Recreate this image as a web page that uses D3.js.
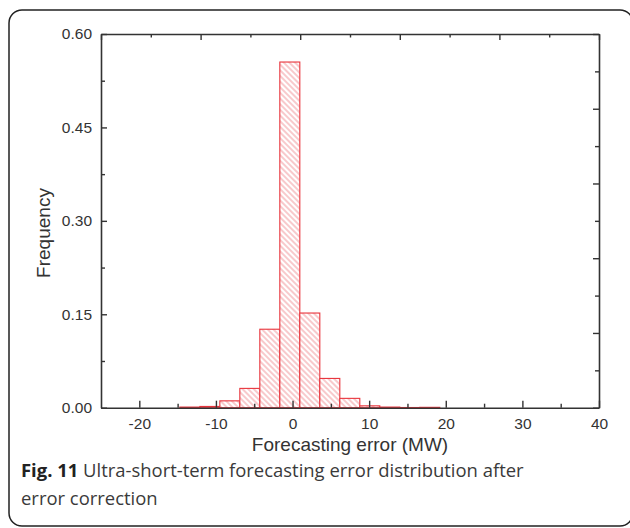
<!DOCTYPE html>
<html>
<head>
<meta charset="utf-8">
<script src="https://cdn.jsdelivr.net/npm/d3@7"></script>
<style>
  body { margin: 0; background: #fff; }
  svg { display: block; }
</style>
</head>
<body>
<svg id="chart" width="630" height="528"></svg>
<script>
// histogram bins (MW) and relative frequency
const binStart = [-14.71, -12.10, -9.49, -6.88, -4.27, -1.66, 0.95, 3.56, 6.17, 8.78, 11.39, 14.00, 16.61];
const binWidth = 2.61;
const frequency = [0.001, 0.002, 0.011, 0.031, 0.126, 0.555, 0.152, 0.047, 0.015, 0.003, 0.001, 0.0003, 0.0006];

const xTicks = [-20, -10, 0, 10, 20, 30, 40];
const xMinor = [-15, -5, 5, 15, 25, 35];
const yTicks = [0, 0.15, 0.30, 0.45, 0.60];
const yMinor = [0.075, 0.225, 0.375, 0.525];

const svg = d3.select("#chart");
const M = { top: 34, right: 31, bottom: 120.3, left: 101 };
const W = 630 - M.left - M.right;
const H = 528 - M.top - M.bottom;

const defs = svg.append("defs");
const hatch = defs.append("pattern")
  .attr("id", "hatch")
  .attr("patternUnits", "userSpaceOnUse")
  .attr("width", 4).attr("height", 4)
  .attr("patternTransform", "rotate(-45)");
hatch.append("rect").attr("width", 4).attr("height", 4).attr("fill", "#fff");
hatch.append("line")
  .attr("x1", 1).attr("y1", 0).attr("x2", 1).attr("y2", 4)
  .attr("stroke", "#f2959a").attr("stroke-width", 1);

// outer rounded frame
svg.append("rect")
  .attr("x", 9).attr("y", 10)
  .attr("width", 624).attr("height", 516)
  .attr("rx", 13)
  .attr("fill", "none").attr("stroke", "#222").attr("stroke-width", 1.5);

const g = svg.append("g").attr("transform", `translate(${M.left},${M.top})`);

const x = d3.scaleLinear().domain([-25, 40]).range([0, W]);
const y = d3.scaleLinear().domain([0, 0.6]).range([H, 0]);
// origin-style top/right axes carry their own evenly spaced ticks
const xTop = d3.scaleLinear().domain([0, 10]).range([0, W]);
const yRight = d3.scaleLinear().domain([0, 10]).range([H, 0]);

// bars
g.append("g").selectAll("rect")
  .data(binStart.map((s, i) => ({ s, f: frequency[i] })))
  .join("rect")
  .attr("x", d => x(d.s))
  .attr("width", d => x(d.s + binWidth) - x(d.s))
  .attr("y", d => y(d.f))
  .attr("height", d => y(0) - y(d.f))
  .attr("fill", "url(#hatch)")
  .attr("stroke", "#e8343c")
  .attr("stroke-width", 1.1);

const axisColor = "#333";
function style(sel) {
  sel.selectAll("path, line").attr("stroke", axisColor);
  sel.select("path.domain").attr("stroke-width", 1.6);
  sel.selectAll(".tick line").attr("stroke-width", 1.4);
  sel.selectAll("text")
    .attr("fill", "#333")
    .style("font-family", "'Liberation Sans', Arial, sans-serif")
    .style("font-size", "15.5px");
}

// minor ticks first, no labels
g.append("g").attr("transform", `translate(0,${H})`)
  .call(d3.axisBottom(x).tickValues(xMinor).tickSize(-4).tickSizeOuter(0).tickFormat(""))
  .call(style).select(".domain").remove();
g.append("g")
  .call(d3.axisLeft(y).tickValues(yMinor).tickSize(-4).tickSizeOuter(0).tickFormat(""))
  .call(style).select(".domain").remove();

g.append("g").attr("transform", `translate(0,${H})`)
  .call(d3.axisBottom(x).tickValues(xTicks).tickSize(-7).tickSizeOuter(0).tickPadding(10)
    .tickFormat(d => String(d)))
  .call(style);

g.append("g")
  .call(d3.axisLeft(y).tickValues(yTicks).tickSize(-6).tickSizeOuter(0).tickPadding(9)
    .tickFormat(d3.format(".2f")))
  .call(style);

g.append("g")
  .call(d3.axisTop(xTop).ticks(10).tickSize(-5).tickSizeOuter(0).tickFormat(""))
  .call(style)
  .selectAll(".tick line").attr("y2", d => d % 2 ? 3.5 : 6);

g.append("g").attr("transform", `translate(${W},0)`)
  .call(d3.axisRight(yRight).ticks(10).tickSize(-5).tickSizeOuter(0).tickFormat(""))
  .call(style)
  .selectAll(".tick line").attr("x2", d => d % 2 ? -4 : -6);

// axis titles
svg.append("text")
  .attr("x", M.left + W / 2).attr("y", 451)
  .attr("text-anchor", "middle")
  .attr("fill", "#333")
  .style("font-family", "'Liberation Sans', Arial, sans-serif")
  .style("font-size", "19px")
  .text("Forecasting error (MW)");

svg.append("text")
  .attr("transform", "translate(50,233) rotate(-90)")
  .attr("text-anchor", "middle")
  .attr("fill", "#333")
  .style("font-family", "'Liberation Sans', Arial, sans-serif")
  .style("font-size", "19px")
  .text("Frequency");

// caption
const cap = svg.append("g")
  .style("font-family", "'Open Sans', 'Noto Sans', sans-serif")
  .attr("fill", "#3a3a3a");
const line1 = cap.append("text").attr("x", 21).attr("y", 477).style("font-size", "17px");
line1.append("tspan").attr("font-weight", "bold").attr("fill", "#222").text("Fig. 11");
line1.append("tspan").text(" Ultra-short-term forecasting error distribution after");
const line2 = cap.append("text").attr("x", 21).attr("y", 505).style("font-size", "17px")
  .text("error correction");

// fit caption size to the width it occupies in the figure
const fs = 17 * 503 / line1.node().getComputedTextLength();
line1.style("font-size", fs + "px");
line2.style("font-size", fs + "px");
</script>
</body>
</html>
